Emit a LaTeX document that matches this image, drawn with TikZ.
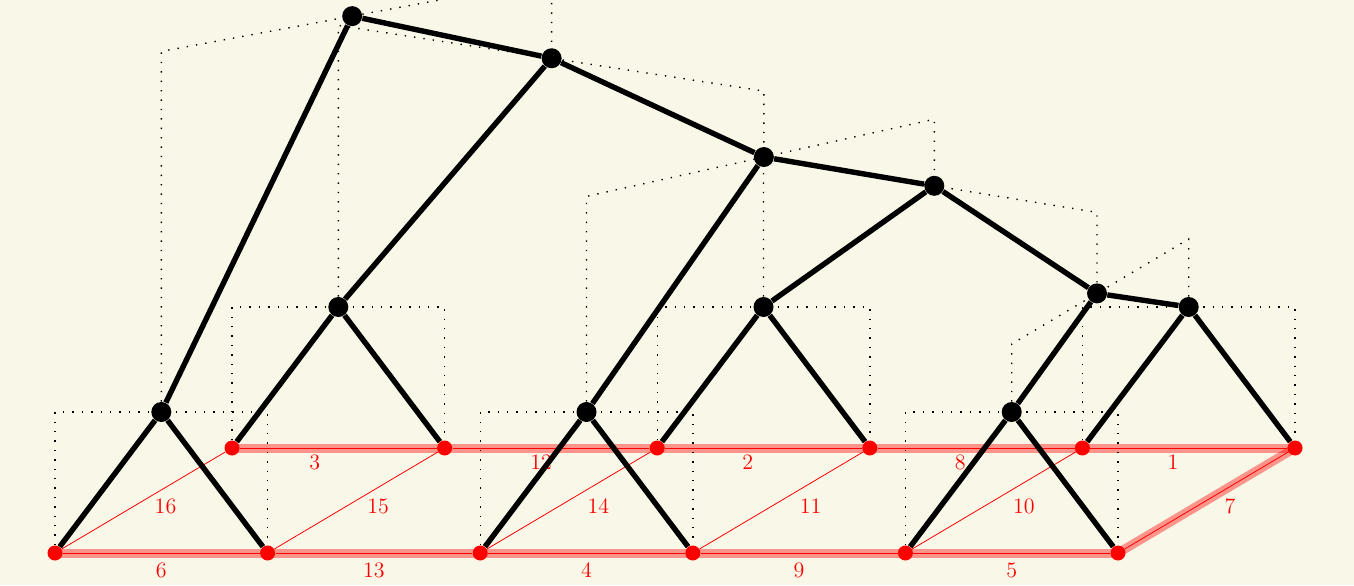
\documentclass[tikz,border=0pt]{standalone}
\usetikzlibrary{backgrounds}
\definecolor{paper}{RGB}{249,248,232}

\begin{document}
\begin{tikzpicture}[
    x={(.5pt,0)}, y={(0,.5pt)}, z={(88.5pt,52.5pt)},
    leaf/.style={circle, fill=red, inner sep=0pt, minimum size=7.5pt},
    link/.style={circle, fill=black, inner sep=0pt, minimum size=10pt},
    cost/.style={red, thin},
    chosen/.style={red, opacity=.4, line width=4.5pt, shorten <=-2pt, shorten >=-2pt},
    bracket/.style={loosely dotted, line width=.7pt},
    treeedge/.style={line width=2.7pt},
    wlabel/.style={text=red, font=\fontsize{11}{13}\selectfont}
]

\useasboundingbox (0,-32,0) rectangle (1354,553,0);

% leaves, front row and back row
\node[leaf] (front1) at (55,0,0) {};
\node[leaf] (front2) at (267.6,0,0) {};
\node[leaf] (front3) at (480.2,0,0) {};
\node[leaf] (front4) at (692.8,0,0) {};
\node[leaf] (front5) at (905.4,0,0) {};
\node[leaf] (front6) at (1118,0,0) {};
\node[leaf] (back1) at (55,0,1) {};
\node[leaf] (back2) at (267.6,0,1) {};
\node[leaf] (back3) at (480.2,0,1) {};
\node[leaf] (back4) at (692.8,0,1) {};
\node[leaf] (back5) at (905.4,0,1) {};
\node[leaf] (back6) at (1118,0,1) {};

% merges, named after the edge that makes them
\node[link] (merge6) at (161.3,141,0) {};
\node[link] (merge3) at (161.3,141,1) {};
\node[link] (merge4) at (586.5,141,0) {};
\node[link] (merge2) at (586.5,141,1) {};
\node[link] (merge5) at (1011.7,141,0) {};
\node[link] (merge1) at (1011.7,141,1) {};
\node[link] (merge7) at (1011.7,209,.482) {};
\node[link] (merge8) at (804.2,290,.735) {};
\node[link] (merge9) at (697.5,356.6,.375) {};
\node[link] (merge12) at (430,422.6,.687) {};
\node[link] (merge13) at (292.7,501.6,.336) {};

\begin{scope}[on background layer]
\clip (0,-32,0) rectangle (1354,553,0);
\fill[paper] (0,-32,0) rectangle (1354,553,0);

% spanning path
\draw[chosen] (front1) -- (front2);
\draw[chosen] (front2) -- (front3);
\draw[chosen] (front3) -- (front4);
\draw[chosen] (front4) -- (front5);
\draw[chosen] (front5) -- (front6);
\draw[chosen] (back1) -- (back2);
\draw[chosen] (back2) -- (back3);
\draw[chosen] (back3) -- (back4);
\draw[chosen] (back4) -- (back5);
\draw[chosen] (back5) -- (back6);
\draw[chosen] (front6) -- (back6);

% weighted edges
\draw[cost] (front1) -- (front2) node[wlabel, midway, below=1.4pt] {6};
\draw[cost] (front2) -- (front3) node[wlabel, midway, below=1.4pt] {13};
\draw[cost] (front3) -- (front4) node[wlabel, midway, below=1.4pt] {4};
\draw[cost] (front4) -- (front5) node[wlabel, midway, below=1.4pt] {9};
\draw[cost] (front5) -- (front6) node[wlabel, midway, below=1.4pt] {5};
\draw[cost] (back1) -- (back2) node[wlabel, pos=.38, below] {3};
\draw[cost] (back2) -- (back3) node[wlabel, pos=.45, below] {12};
\draw[cost] (back3) -- (back4) node[wlabel, pos=.42, below] {2};
\draw[cost] (back4) -- (back5) node[wlabel, pos=.42, below] {8};
\draw[cost] (back5) -- (back6) node[wlabel, pos=.42, below] {1};
\draw[cost] (front1) -- (back1) node[wlabel, midway, xshift=11pt, yshift=-2.75pt] {16};
\draw[cost] (front2) -- (back2) node[wlabel, midway, xshift=11pt, yshift=-2.75pt] {15};
\draw[cost] (front3) -- (back3) node[wlabel, midway, xshift=14.8pt, yshift=-2.75pt] {14};
\draw[cost] (front4) -- (back4) node[wlabel, midway, xshift=14.7pt, yshift=-2.75pt] {11};
\draw[cost] (front5) -- (back5) node[wlabel, midway, xshift=15pt, yshift=-2.75pt] {10};
\draw[cost] (front6) -- (back6) node[wlabel, midway, xshift=11.8pt, yshift=-2.75pt] {7};

% dendrogram brackets
\draw[bracket] (front1) -- (55,141,0) -- (267.6,141,0) -- (front2);
\draw[bracket] (back1) -- (55,141,1) -- (267.6,141,1) -- (back2);
\draw[bracket] (front3) -- (480.2,141,0) -- (692.8,141,0) -- (front4);
\draw[bracket] (back3) -- (480.2,141,1) -- (692.8,141,1) -- (back4);
\draw[bracket] (front5) -- (905.4,141,0) -- (1118,141,0) -- (front6);
\draw[bracket] (back5) -- (905.4,141,1) -- (1118,141,1) -- (back6);
\draw[bracket] (merge5) -- (1011.7,209,0) -- (1011.7,209,1) -- (merge1);
\draw[bracket] (merge2) -- (586.5,290,1) -- (1011.7,290,.482) -- (merge7);
\draw[bracket] (merge4) -- (586.5,356.6,0) -- (804.2,356.6,.735) -- (merge8);
\draw[bracket] (merge3) -- (161.3,422.6,1) -- (697.5,422.6,.375) -- (merge9);
\draw[bracket] (merge6) -- (161.3,501.6,0) -- (430,501.6,.687) -- (merge12);

% tree
\draw[treeedge] (merge6) -- (front1);
\draw[treeedge] (merge6) -- (front2);
\draw[treeedge] (merge3) -- (back1);
\draw[treeedge] (merge3) -- (back2);
\draw[treeedge] (merge4) -- (front3);
\draw[treeedge] (merge4) -- (front4);
\draw[treeedge] (merge2) -- (back3);
\draw[treeedge] (merge2) -- (back4);
\draw[treeedge] (merge5) -- (front5);
\draw[treeedge] (merge5) -- (front6);
\draw[treeedge] (merge1) -- (back5);
\draw[treeedge] (merge1) -- (back6);
\draw[treeedge] (merge7) -- (merge5);
\draw[treeedge] (merge7) -- (merge1);
\draw[treeedge] (merge8) -- (merge2);
\draw[treeedge] (merge8) -- (merge7);
\draw[treeedge] (merge9) -- (merge4);
\draw[treeedge] (merge9) -- (merge8);
\draw[treeedge] (merge12) -- (merge3);
\draw[treeedge] (merge12) -- (merge9);
\draw[treeedge] (merge13) -- (merge6);
\draw[treeedge] (merge13) -- (merge12);
\end{scope}

\end{tikzpicture}
\end{document}
